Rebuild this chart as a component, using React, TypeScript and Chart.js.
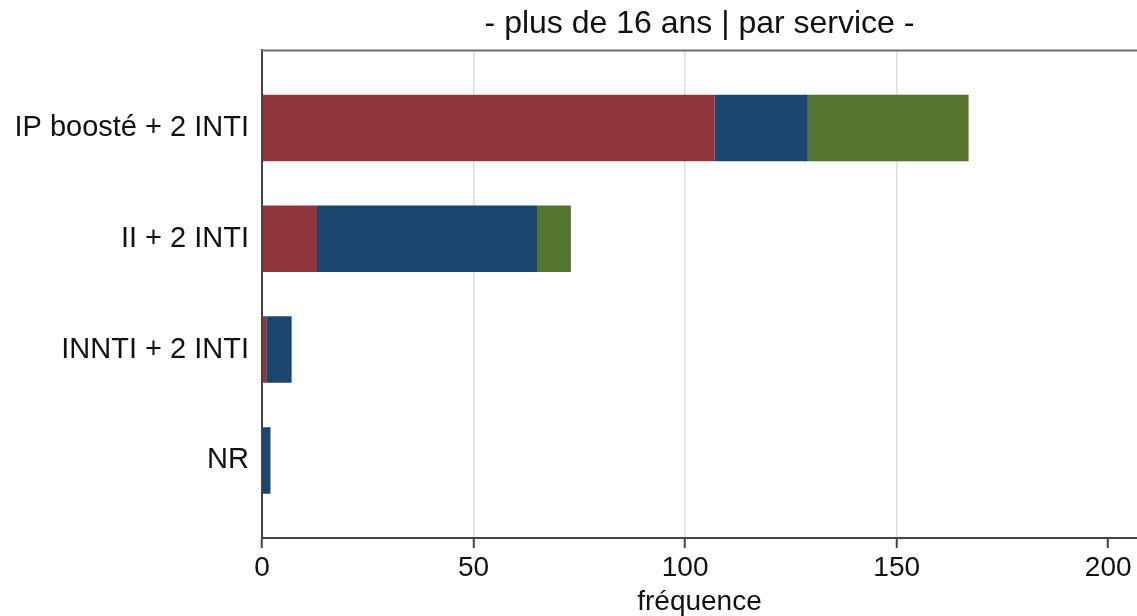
import { useEffect, useRef } from "react";
import { Chart, registerables } from "chart.js";

Chart.register(...registerables);

const categories = ["IP boosté + 2 INTI", "II + 2 INTI", "INNTI + 2 INTI", "NR"];
const seriesNames = ["Service 1", "Service 2", "Service 3"];
const service1 = [107, 13, 1, 0];
const service2 = [22, 52, 6, 2];
const service3 = [38, 8, 0, 0];
const xTickValues = [0, 50, 100, 150, 200];
const gridValues = [50, 100, 150];
const chartTitle = "- plus de 16 ans | par service -";
const xAxisTitle = "fréquence";

const colors = ["#90353B", "#1A476F", "#55752F"];
const FONT = "'Liberation Sans', Arial, Helvetica, sans-serif";

const topBorder = {
  id: "topBorder",
  afterDraw(chart: any) {
    const { ctx, chartArea } = chart;
    ctx.save();
    ctx.strokeStyle = "#6e6e6e";
    ctx.lineWidth = 2;
    ctx.beginPath();
    ctx.moveTo(chartArea.left - 1, chartArea.top);
    ctx.lineTo(chartArea.right, chartArea.top);
    ctx.stroke();
    ctx.restore();
  },
};

export default function App() {
  const ref = useRef<HTMLCanvasElement | null>(null);

  useEffect(() => {
    if (!ref.current) return;
    const series = [service1, service2, service3];
    const chart = new Chart(ref.current, {
      type: "bar",
      data: {
        datasets: series.map((vals, si) => ({
          label: seriesNames[si],
          data: vals.map((v, i) => ({ x: v, y: i })),
          backgroundColor: colors[si],
          borderWidth: 0,
          barPercentage: 0.6,
          categoryPercentage: 1,
        })),
      },
      options: {
        indexAxis: "y",
        responsive: false,
        animation: false,
        layout: { padding: 0 },
        plugins: {
          legend: { display: false },
          tooltip: { enabled: false },
          title: {
            display: true,
            text: chartTitle,
            fullSize: false,
            color: "#111",
            font: { family: FONT, size: 32, weight: "normal", lineHeight: 1.2 },
            padding: { top: 5, bottom: 7 },
          },
        },
        scales: {
          x: {
            type: "linear",
            stacked: true,
            min: 0,
            max: 206.8,
            afterBuildTicks: (scale: any) => {
              scale.ticks = xTickValues.map((v) => ({ value: v }));
            },
            afterFit: (scale: any) => {
              scale.height = 78;
            },
            ticks: {
              autoSkip: false,
              maxRotation: 0,
              padding: 5,
              color: "#111",
              font: { family: FONT, size: 28, lineHeight: 1.1 },
            },
            grid: {
              drawTicks: true,
              tickLength: 10,
              tickWidth: 2,
              tickColor: "#444",
              lineWidth: 1.5,
              color: (ctx: any) =>
                ctx.tick && gridValues.includes(ctx.tick.value) ? "#dddddd" : "rgba(0,0,0,0)",
            },
            border: { display: true, color: "#444", width: 2 },
            title: {
              display: true,
              text: xAxisTitle,
              color: "#111",
              font: { family: FONT, size: 28, lineHeight: 1.0 },
              padding: { top: 0, bottom: 0 },
            },
          },
          y: {
            type: "linear",
            stacked: true,
            reverse: true,
            offset: false,
            min: -0.7,
            max: 3.7,
            z: 1,
            afterBuildTicks: (scale: any) => {
              scale.ticks = categories.map((_, i) => ({ value: i }));
            },
            afterFit: (scale: any) => {
              scale.width = 262;
            },
            ticks: {
              autoSkip: false,
              padding: 13,
              color: "#111",
              font: { family: FONT, size: 29 },
              callback: (v: any) => categories[v as number] ?? "",
            },
            grid: { display: false, drawTicks: false, offset: false },
            border: { display: true, color: "#444", width: 2 },
          },
        },
      },
      plugins: [topBorder],
    } as any);
    return () => chart.destroy();
  }, []);

  return (
    <div style={{ position: "fixed", left: 0, top: 0, width: 1137, height: 616, background: "#fff" }}>
      <canvas ref={ref} width={1137} height={616} style={{ display: "block" }} />
    </div>
  );
}
